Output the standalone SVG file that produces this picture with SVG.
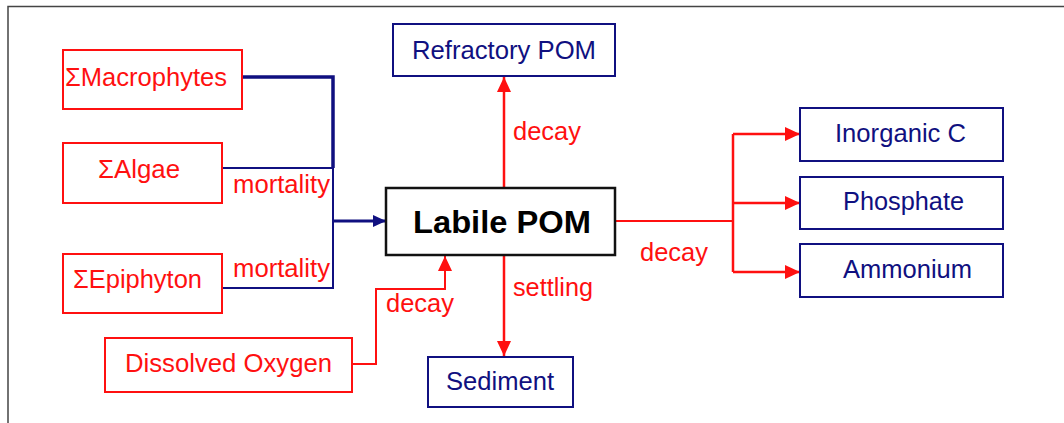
<svg xmlns="http://www.w3.org/2000/svg" width="1064" height="423" viewBox="0 0 1064 423">
  <style>
    .box { fill: #ffffff; stroke-width: 2; }
    .red { stroke: #ff1010; }
    .navy { stroke: #101080; }
    .blk { stroke: #111111; stroke-width: 2.5; }
    .t { font-family: "Liberation Sans", Arial, sans-serif; font-size: 25px; }
    .n { font-size: 26px; }
    .tr { fill: #ff1010; }
    .tn { fill: #101080; }
    .tb { fill: #000000; font-weight: bold; font-size: 32px; }
    .cr { fill: none; stroke: #ff1010; stroke-width: 2.5; }
    .cn { fill: none; stroke: #101080; stroke-width: 2; }
  </style>
  <defs>
    <marker id="ahRed" markerUnits="userSpaceOnUse" markerWidth="15" markerHeight="14" refX="15" refY="7" orient="auto">
      <path d="M0,0 L15,7 L0,14 z" fill="#ff1010"/>
    </marker>
    <marker id="ahNavy" markerUnits="userSpaceOnUse" markerWidth="13" markerHeight="12" refX="13" refY="6" orient="auto">
      <path d="M0,0 L13,6 L0,12 z" fill="#101080"/>
    </marker>
  </defs>

  <rect width="1064" height="423" fill="#ffffff"/>
  <!-- frame -->
  <path d="M8,423 L8,6.5 L1064,6.5" fill="none" stroke="#444444" stroke-width="1.5"/>

  <g id="connectors">
    <!-- mortality inputs -->
    <path class="cn" style="stroke-width:3.5" d="M240,77 L333,77 L333,168"/>
    <path class="cn" d="M222,168 L333,168 L333,288 L222,288"/>
    <path class="cn" style="stroke-width:2.8" d="M333,221 L386,221" marker-end="url(#ahNavy)"/>
    <!-- decay from dissolved oxygen -->
    <path class="cr" style="stroke-width:2" d="M352,364 L376,364 L376,289 L445,289 L445,256" marker-end="url(#ahRed)"/>
    <!-- decay to refractory -->
    <path class="cr" d="M504,188 L504,77" marker-end="url(#ahRed)"/>
    <!-- settling -->
    <path class="cr" d="M504,255 L504,356" marker-end="url(#ahRed)"/>
    <!-- decay to nutrients -->
    <path class="cr" style="stroke-width:2" d="M615,221 L733,221"/>
    <path class="cr" d="M733,134 L733,272"/>
    <path class="cr" d="M733,134 L800,134" marker-end="url(#ahRed)"/>
    <path class="cr" d="M733,203 L800,203" marker-end="url(#ahRed)"/>
    <path class="cr" d="M733,272 L800,272" marker-end="url(#ahRed)"/>
  </g>

  <g id="labels">
    <text class="t tr" x="233" y="193" textLength="97" lengthAdjust="spacingAndGlyphs">mortality</text>
    <text class="t tr" x="233" y="277" textLength="97" lengthAdjust="spacingAndGlyphs">mortality</text>
    <text class="t tr" x="386" y="312" textLength="68" lengthAdjust="spacingAndGlyphs">decay</text>
    <text class="t tr" x="513" y="140" textLength="68" lengthAdjust="spacingAndGlyphs">decay</text>
    <text class="t tr" x="513" y="296" textLength="80" lengthAdjust="spacingAndGlyphs">settling</text>
    <text class="t tr" x="640" y="261" textLength="68" lengthAdjust="spacingAndGlyphs">decay</text>
  </g>

  <g id="macrophytes">
    <rect class="box red" x="63" y="50" width="179" height="59"/>
    <text class="t n tr" x="65" y="86" textLength="162" lengthAdjust="spacingAndGlyphs">ΣMacrophytes</text>
  </g>
  <g id="algae">
    <rect class="box red" x="63" y="143" width="159" height="60"/>
    <text class="t n tr" x="98" y="178" textLength="82" lengthAdjust="spacingAndGlyphs">ΣAlgae</text>
  </g>
  <g id="epiphyton">
    <rect class="box red" x="63" y="254" width="159" height="59"/>
    <text class="t n tr" x="73" y="288" textLength="129" lengthAdjust="spacingAndGlyphs">ΣEpiphyton</text>
  </g>
  <g id="dissolved-oxygen">
    <rect class="box red" x="105" y="338" width="247" height="54"/>
    <text class="t n tr" x="125" y="372" textLength="207" lengthAdjust="spacingAndGlyphs">Dissolved Oxygen</text>
  </g>
  <g id="refractory-pom">
    <rect class="box navy" x="393" y="24" width="222" height="52"/>
    <text class="t n tn" x="412" y="59" textLength="184" lengthAdjust="spacingAndGlyphs">Refractory POM</text>
  </g>
  <g id="labile-pom">
    <rect class="box blk" x="386" y="188" width="229" height="67"/>
    <text class="t tb" x="413" y="233" textLength="178" lengthAdjust="spacingAndGlyphs">Labile POM</text>
  </g>
  <g id="sediment">
    <rect class="box navy" x="428" y="357" width="145" height="50"/>
    <text class="t n tn" x="446" y="390" textLength="108" lengthAdjust="spacingAndGlyphs">Sediment</text>
  </g>
  <g id="inorganic-c">
    <rect class="box navy" x="800" y="108" width="203" height="53"/>
    <text class="t n tn" x="835" y="142" textLength="131" lengthAdjust="spacingAndGlyphs">Inorganic C</text>
  </g>
  <g id="phosphate">
    <rect class="box navy" x="800" y="177" width="203" height="52"/>
    <text class="t n tn" x="843" y="210" textLength="121" lengthAdjust="spacingAndGlyphs">Phosphate</text>
  </g>
  <g id="ammonium">
    <rect class="box navy" x="800" y="244" width="203" height="53"/>
    <text class="t n tn" x="843" y="278" textLength="129" lengthAdjust="spacingAndGlyphs">Ammonium</text>
  </g>
</svg>
